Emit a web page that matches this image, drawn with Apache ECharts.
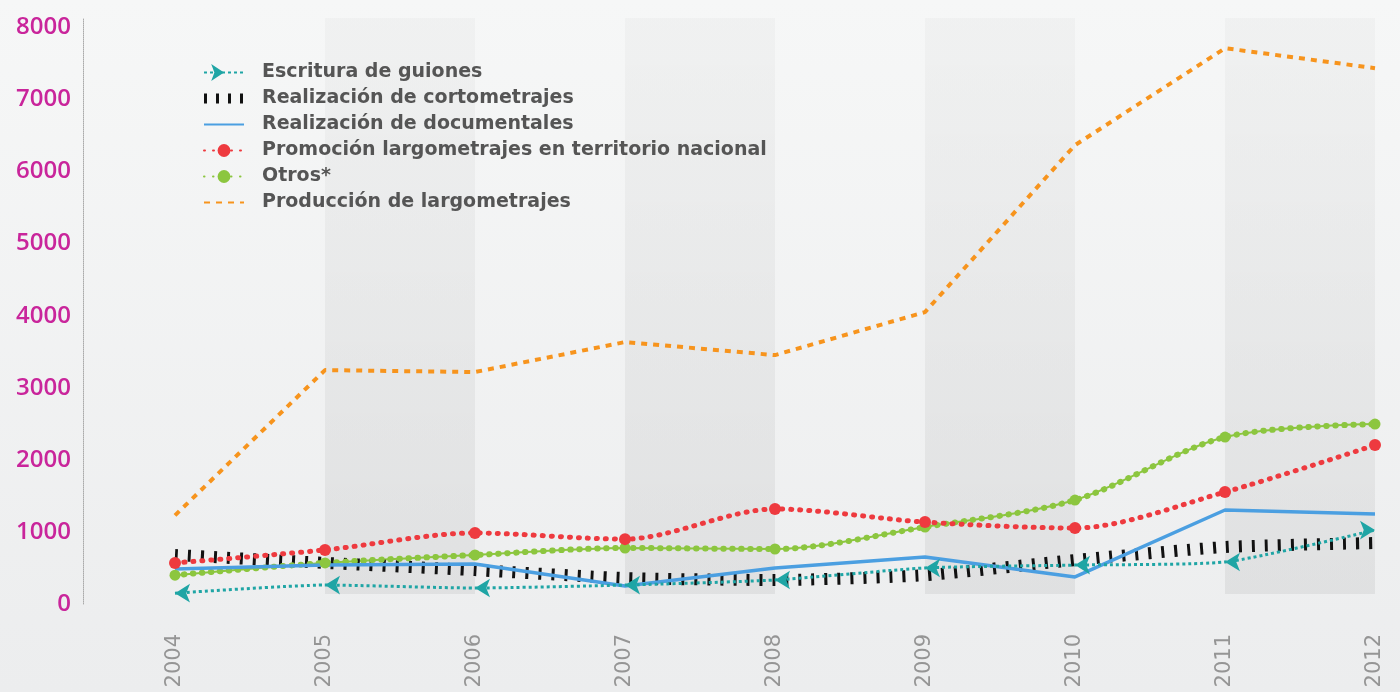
<!DOCTYPE HTML>
<html>
<head>
<meta charset="utf-8">
<title>Estímulos por categoría 2004-2012</title>
<script src="https://cdn.jsdelivr.net/npm/echarts@6/dist/echarts.min.js"></script>
<style>
	html, body { margin: 0; padding: 0; background: #f3f4f4; }
	#main { width: 1400px; height: 692px; }
</style>
</head>
<body>
<div id="main"></div>
<script type="text/javascript">
	// datos
	let anios = ['2004', '2005', '2006', '2007', '2008', '2009', '2010', '2011', '2012'];
	let yTicks = [0, 1000, 2000, 3000, 4000, 5000, 6000, 7000, 8000];
	let escritura = [150, 263, 222, 263, 333, 500, 540, 583, 1026];
	let cortos = [680, 570, 470, 360, 333, 400, 610, 790, 846];
	let documentales = [485, 540, 555, 250, 500, 652, 375, 1304, 1248];
	let promocion = [570, 750, 985, 900, 1318, 1137, 1054, 1553, 2205];
	let otros = [400, 570, 680, 777, 763, 1068, 1442, 2316, 2496];
	let produccion = [1230, 3245, 3218, 3634, 3453, 4050, 6366, 7711, 7434];
	// franjas sombreadas (pares de años)
	let franjas = [['2005', '2006'], ['2007', '2008'], ['2009', '2010'], ['2011', '2012']];

	let myChart = echarts.init(document.getElementById('main'));

	let ultimo = anios.length - 1;
	// en la leyenda las series sin marcador no llevan circulo
	let sinMarca = {color: 'transparent', borderWidth: 0};

	let option = {
		backgroundColor: {
			type: 'linear', x: 0, y: 0, x2: 0, y2: 1,
			colorStops: [{offset: 0, color: '#f6f7f7'}, {offset: 1, color: '#ecedee'}]
		},
		animation: false,
		grid: {left: 175, right: 25, top: 18, bottom: 88},
		legend: {
			orient: 'vertical',
			left: 194,
			top: 58,
			itemWidth: 40,
			itemHeight: 16,
			itemGap: 7,
			data: [
				{name: 'Escritura de guiones', symbolRotate: -90},
				{name: 'Realización de cortometrajes', itemStyle: sinMarca, lineStyle: {width: 10, type: [3, 9]}},
				{name: 'Realización de documentales', itemStyle: sinMarca},
				'Promoción largometrajes en territorio nacional',
				'Otros*',
				{name: 'Producción de largometrajes', itemStyle: sinMarca}
			],
			textStyle: {
				color: '#555',
				fontSize: 19,
				fontWeight: 'bold',
				fontFamily: 'DejaVu Sans',
				padding: [0, 0, 0, 13]
			}
		},
		xAxis: {
			type: 'category',
			boundaryGap: false,
			data: anios,
			axisLine: {show: false},
			axisTick: {show: false},
			axisLabel: {
				rotate: 90,
				margin: 30,
				color: '#959595',
				fontSize: 21,
				fontFamily: 'DejaVu Sans'
			}
		},
		yAxis: {
			type: 'value',
			min: 0,
			max: 8130,
			interval: 1000,
			offset: 92,
			splitLine: {show: false},
			axisTick: {show: false},
			axisLine: {show: true, lineStyle: {color: '#aaa', type: 'dotted', width: 1}},
			axisLabel: {
				margin: 12,
				color: '#c9259b',
				fontSize: 24,
				fontFamily: 'Open Sans',
				fontWeight: 600,
				formatter: function (v) {
					return yTicks.indexOf(v) >= 0 ? String(v) : '';
				}
			}
		},
		series: [
			{
				name: 'Producción de largometrajes',
				type: 'line',
				data: produccion,
				symbol: 'none',
				z: 2,
				lineStyle: {color: '#f7941d', width: 4, type: [6, 6]},
				itemStyle: {color: '#f7941d'},
				markArea: {
					silent: true,
					itemStyle: {
						color: {
							type: 'linear', x: 0, y: 0, x2: 0, y2: 1,
							colorStops: [{offset: 0, color: 'rgba(0,0,0,0.025)'}, {offset: 1, color: 'rgba(0,0,0,0.06)'}]
						}
					},
					data: franjas.map(function (f) {
						return [{xAxis: f[0], yAxis: 140}, {xAxis: f[1], yAxis: 8130}];
					})
				}
			},
			{
				name: 'otros-linea',
				type: 'line',
				data: otros,
				smooth: 0.3,
				symbol: 'none',
				z: 3,
				lineStyle: {color: '#8cc63f', width: 2}
			},
			{
				name: 'Otros*',
				type: 'line',
				data: otros,
				smooth: 0.3,
				symbol: 'circle',
				symbolSize: 11,
				z: 4,
				lineStyle: {color: '#8cc63f', width: 6, type: [0.5, 8.5], cap: 'round'},
				itemStyle: {color: '#8cc63f'}
			},
			{
				name: 'Promoción largometrajes en territorio nacional',
				type: 'line',
				data: promocion,
				smooth: 0.3,
				symbol: 'circle',
				symbolSize: 12,
				z: 5,
				lineStyle: {color: '#ee3a3f', width: 5, type: [1, 8], cap: 'round'},
				itemStyle: {color: '#ee3a3f'}
			},
			{
				name: 'Realización de documentales',
				type: 'line',
				data: documentales,
				symbol: 'none',
				z: 4,
				lineStyle: {color: '#4b9fe1', width: 3.5},
				itemStyle: {color: '#4b9fe1'}
			},
			{
				name: 'Realización de cortometrajes',
				type: 'line',
				data: cortos,
				smooth: 0.2,
				symbol: 'none',
				z: 3,
				lineStyle: {color: '#111', width: 12, type: [3, 10], cap: 'butt'},
				itemStyle: {color: '#111'}
			},
			{
				name: 'Escritura de guiones',
				type: 'line',
				data: escritura,
				smooth: 0.2,
				symbol: 'arrow',
				symbolSize: [14, 15],
				symbolRotate: function (v, params) {
					return params.dataIndex === ultimo ? -90 : 90;
				},
				z: 5,
				lineStyle: {color: '#1fa5a5', width: 3, type: [3, 3]},
				itemStyle: {color: '#1fa5a5'}
			}
		]
	};

	myChart.setOption(option);
</script>
</body>
</html>
